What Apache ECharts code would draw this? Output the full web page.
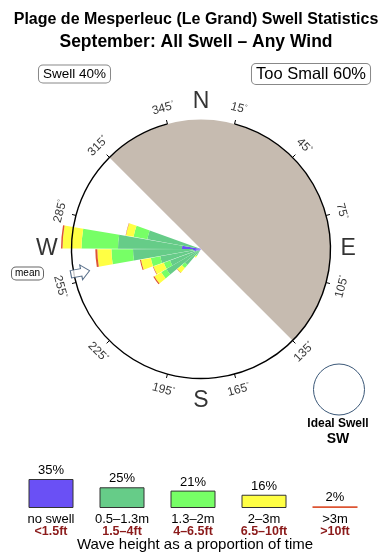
<!DOCTYPE html>
<html><head><meta charset="utf-8">
<script src="https://cdn.jsdelivr.net/npm/echarts@6/dist/echarts.min.js"></script>
<style>html,body{margin:0;padding:0;background:#fff}#c{width:390px;height:560px}</style>
</head><body><div id="c"></div>
<script>
// ---------- data ----------
const titleText = 'Plage de Mesperleuc (Le Grand) Swell Statistics';
const subtitleText = 'September: All Swell – Any Wind';
const swellLabel = 'Swell 40%';
const tooSmallLabel = 'Too Small 60%';
// 10-degree direction bins (start bearing of each bin)
const binDirs    = [210, 220, 230, 240, 250, 260, 270, 280];
// stacked segment sizes per bin (inner -> outer)
const purpleVals = [0.10, 0.20, 0.30, 0.40, 0.70, 0.80, 1.90, 0.30];
const tealVals   = [0.60, 1.90, 3.70, 2.90, 3.44, 6.00, 6.40, 5.15];
const greenVals  = [0.15, 0.40, 0.60, 0.67, 0.96, 2.16, 3.65, 1.40];
const yellowVals = [0.15, 0.60, 0.80, 1.10, 1.00, 1.41, 1.90, 0.78];
const redVals    = [0.00, 0.03, 0.12, 0.05, 0.10, 0.20, 0.15, 0.03];
const tickLabels = ['15','45','75','105','135','165','195','225','255','285','315','345'];
const compassLetters = ['N','E','S','W'];
const meanDir = 259;
const legendPct    = [35, 25, 21, 16, 2];
const legendMetric = ['no swell','0.5–1.3m','1.3–2m','2–3m','>3m'];
const legendFeet   = ['<1.5ft','1.5–4ft','4–6.5ft','6.5–10ft','>10ft'];
const idealSwellDir = 'SW';

// ---------- styles ----------
const FF = '"Liberation Sans", Arial, Helvetica, sans-serif';
const colors = ['#6a50f5', '#66cc88', '#77ff66', '#ffff44', '#dd5533'];
const CX = 201, CY = 249, R = 129.5, OUT = 1.3;

const angleCats = Array.from({length: 36}, (_, i) => String(i * 10));
function toBins(vals) {
  const arr = new Array(36).fill(0);
  binDirs.forEach((d, i) => { arr[d / 10] = vals[i]; });
  return arr;
}
const roseSeries = [purpleVals, tealVals, greenVals, yellowVals, redVals].map((v, i) => ({
  type: 'bar', coordinateSystem: 'polar', polarIndex: 0, stack: 'rose',
  data: toBins(v), barCategoryGap: '4%', itemStyle: { color: colors[i] }, z: 5, silent: true
}));
const hiddenAxis = { axisLine: { show: false }, axisTick: { show: false }, axisLabel: { show: false }, splitLine: { show: false } };

const chart = echarts.init(document.getElementById('c'), null, { renderer: 'canvas' });
chart.setOption({
  animation: false,
  backgroundColor: '#fff',
  textStyle: { fontFamily: FF },
  polar: [
    { center: [CX, CY], radius: 140 },
    { center: [CX, CY], radius: R },
    { center: [CX, CY], radius: R * OUT },
    { center: [CX, CY], radius: R },
    { center: [CX, CY], radius: R * OUT }
  ],
  angleAxis: [
    Object.assign({ polarIndex: 0, type: 'category', data: angleCats, startAngle: 90, clockwise: true, boundaryGap: true }, hiddenAxis),
    { polarIndex: 1, type: 'category', data: tickLabels, startAngle: 75, clockwise: true, boundaryGap: false, z: 20,
      axisLine: { show: true, lineStyle: { color: '#000', width: 1.4 } },
      axisTick: { show: true, inside: false, length: 4, lineStyle: { color: '#000', width: 1 } },
      axisLabel: { show: false }, splitLine: { show: false } },
    Object.assign({ polarIndex: 2, type: 'category', data: compassLetters, startAngle: 90, clockwise: true, boundaryGap: false }, hiddenAxis),
    Object.assign({ polarIndex: 3, type: 'value', min: 0, max: 360, startAngle: 90, clockwise: true }, hiddenAxis),
    Object.assign({ polarIndex: 4, type: 'category', data: tickLabels, startAngle: 75, clockwise: true, boundaryGap: false }, hiddenAxis)
  ],
  radiusAxis: [
    Object.assign({ polarIndex: 0, min: 0, max: 14 }, hiddenAxis),
    Object.assign({ polarIndex: 1, min: 0, max: 1 }, hiddenAxis),
    Object.assign({ polarIndex: 2, min: 0, max: OUT }, hiddenAxis),
    Object.assign({ polarIndex: 3, min: 0, max: 1 }, hiddenAxis),
    Object.assign({ polarIndex: 4, min: 0, max: OUT }, hiddenAxis)
  ],
  grid: [{ left: 15.5, width: 355, top: 479, height: 29 }],
  xAxis: [{ gridIndex: 0, type: 'category', data: legendMetric,
    axisLine: { show: false }, axisTick: { show: false },
    axisLabel: { interval: 0, margin: 6,
      formatter: (v, i) => `{m|${v}}\n{f|${legendFeet[i]}}`,
      rich: { m: { fontSize: 13, color: '#000', lineHeight: 11.5, fontFamily: FF },
              f: { fontSize: 12.5, fontWeight: 'bold', color: '#8b1a1a', lineHeight: 11.5, fontFamily: FF } } } }],
  yAxis: [{ gridIndex: 0, type: 'value', min: 0, max: 35, show: false }],
  graphic: [
    { type: 'sector', silent: true, z: 0,
      shape: { cx: CX, cy: CY, r: R, startAngle: 225 * Math.PI / 180, endAngle: 405 * Math.PI / 180, clockwise: true },
      style: { fill: '#c6bbb0' } },
    { type: 'text', z: 50, style: { text: titleText, x: 196, y: 20, font: `bold 16px ${FF}`, fill: '#000', align: 'center', verticalAlign: 'middle', textAlign: 'center', textVerticalAlign: 'middle' } },
    { type: 'text', z: 50, style: { text: subtitleText, x: 196, y: 42, font: `bold 17.5px ${FF}`, fill: '#000', align: 'center', verticalAlign: 'middle', textAlign: 'center', textVerticalAlign: 'middle' } },
    { type: 'text', z: 50, style: { text: swellLabel, x: 74.5, y: 74, font: `13.5px ${FF}`, fill: '#000', align: 'center', verticalAlign: 'middle', textAlign: 'center', textVerticalAlign: 'middle',
      backgroundColor: '#fff', borderColor: '#888', borderWidth: 1, borderRadius: 4, padding: [2, 4, 1, 4] } },
    { type: 'text', z: 50, style: { text: tooSmallLabel, x: 311, y: 74, font: `16.5px ${FF}`, fill: '#000', align: 'center', verticalAlign: 'middle', textAlign: 'center', textVerticalAlign: 'middle',
      backgroundColor: '#fff', borderColor: '#888', borderWidth: 1, borderRadius: 4, padding: [2, 4, 1, 4] } },
    { type: 'text', z: 50, style: { text: 'mean', x: 27.5, y: 273.5, font: `10px ${FF}`, fill: '#000', align: 'center', verticalAlign: 'middle', textAlign: 'center', textVerticalAlign: 'middle',
      backgroundColor: '#fff', borderColor: '#666', borderWidth: 1, borderRadius: 4, padding: [1, 3, 1, 3] } },
    { type: 'circle', z: 50, shape: { cx: 339, cy: 389.5, r: 25.5 }, style: { fill: '#fff', stroke: '#3b5878', lineWidth: 1 } },
    { type: 'text', z: 50, style: { text: 'Ideal Swell', x: 338, y: 424, font: `bold 12px ${FF}`, fill: '#000', align: 'center', verticalAlign: 'middle', textAlign: 'center', textVerticalAlign: 'middle' } },
    { type: 'text', z: 50, style: { text: idealSwellDir, x: 338, y: 439.5, font: `bold 14px ${FF}`, fill: '#000', align: 'center', verticalAlign: 'middle', textAlign: 'center', textVerticalAlign: 'middle' } },
    { type: 'text', z: 50, style: { text: 'Wave height as a proportion of time', x: 195, y: 545, font: `15px ${FF}`, fill: '#000', align: 'center', verticalAlign: 'middle', textAlign: 'center', textVerticalAlign: 'middle' } }
  ],
  series: [
    ...roseSeries,
    { type: 'scatter', coordinateSystem: 'polar', polarIndex: 4, symbolSize: 1, z: 20, silent: true, clip: false,
      itemStyle: { color: 'rgba(0,0,0,0)' },
      data: tickLabels.map(t => {
        const b = +t;
        const rot = (b > 90 && b < 270) ? 180 - b : -(b > 180 ? b - 360 : b);
        return { value: [1.125, t], label: { rotate: rot } };
      }),
      label: { show: true, position: 'inside',
        formatter: p => `{a|${p.value[1]}}{b|°}`,
        rich: { a: { fontSize: 12, color: '#000', fontFamily: FF }, b: { fontSize: 7, color: '#000', verticalAlign: 'top', fontFamily: FF } } } },
    { type: 'scatter', coordinateSystem: 'polar', polarIndex: 2, symbolSize: 1, z: 20, silent: true, clip: false,
      itemStyle: { color: 'rgba(0,0,0,0)' },
      data: [[1.137, 'N'], [1.137, 'E'], [1.17, 'S'], [1.19, 'W']],
      label: { show: true, position: 'inside', formatter: p => p.value[1], fontSize: 23, color: '#000', fontFamily: FF } },
    { type: 'scatter', coordinateSystem: 'polar', polarIndex: 3, z: 25, silent: true, clip: false,
      data: [[0.95, meanDir]],
      symbol: 'path://M0,4 L11,4 L11,0 L20,8 L11,16 L11,12 L0,12 Z', symbolSize: [19, 15], symbolKeepAspect: false,
      symbolRotate: 270 - meanDir,
      itemStyle: { color: '#fff', borderColor: '#2d4a6b', borderWidth: 1 } },
    { type: 'bar', xAxisIndex: 0, yAxisIndex: 0, barWidth: 45, silent: true,
      data: legendPct.map((v, i) => ({ value: v, itemStyle: { color: colors[i], borderColor: i === 4 ? colors[4] : '#333', borderWidth: i === 4 ? 1.5 : 1 } })),
      label: { show: true, position: 'top', distance: 2, formatter: '{c}%', fontSize: 13, color: '#000', fontFamily: FF } }
  ]
});
</script>
</body></html>
